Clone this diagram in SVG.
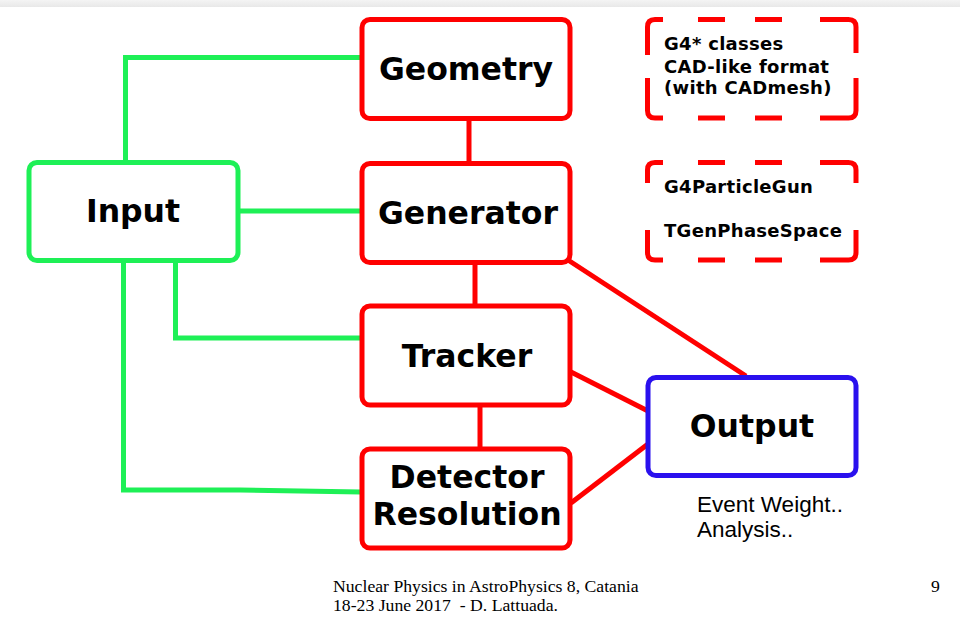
<svg xmlns="http://www.w3.org/2000/svg" width="960" height="635" viewBox="0 0 960 635">
<defs>
<linearGradient id="topbar" x1="0" y1="0" x2="0" y2="1">
<stop offset="0" stop-color="#f4f4f4"/>
<stop offset="1" stop-color="#e8e8e8"/>
</linearGradient>
</defs>
<style>
.box{fill:#fff;stroke-width:5}
.red{stroke:#ff0000}
.grn{stroke:#1ef056}
.blu{stroke:#2a10ee}
.lbl{font-family:"DejaVu Sans",sans-serif;font-weight:bold;font-size:31.5px;fill:#000;text-anchor:middle}
.small{font-family:"DejaVu Sans",sans-serif;font-weight:bold;font-size:18px;letter-spacing:0.3px;fill:#000}
.dash{fill:none;stroke:#ff0000;stroke-width:5;stroke-linecap:butt;stroke-linejoin:round}
.ln{fill:none;stroke-width:5}
.note{font-family:"Liberation Sans",Arial,sans-serif;font-size:22.5px;fill:#000}
.foot{font-family:"Liberation Serif","Times New Roman",serif;font-size:17.7px;fill:#000;white-space:pre}
</style>
<rect x="0" y="0" width="960" height="635" fill="#fff"/>
<rect x="0" y="0" width="960" height="7" fill="url(#topbar)"/>

<g id="connectors">
<polyline class="ln grn" points="125.5,162 125.5,57.5 361,57.5"/>
<line class="ln grn" x1="238" y1="211" x2="361" y2="211"/>
<polyline class="ln grn" points="175.5,261 175.5,338 361,338"/>
<polyline class="ln grn" points="123.5,261 123.5,490 240,490 361,492"/>
<line class="ln red" x1="469" y1="118" x2="469" y2="163"/>
<line class="ln red" x1="475" y1="262" x2="475" y2="306"/>
<line class="ln red" x1="480" y1="405" x2="480" y2="449"/>
<line class="ln red" x1="568" y1="260" x2="746" y2="376"/>
<line class="ln red" x1="571" y1="372" x2="648" y2="411"/>
<line class="ln red" x1="571" y1="503" x2="648" y2="444"/>
</g>

<g id="geometry">
<rect class="box red" x="362" y="19.5" width="208" height="99" rx="8"/>
<text class="lbl" x="466" y="80">Geometry</text>
</g>
<g id="generator">
<rect class="box red" x="362" y="163.5" width="208" height="99" rx="8"/>
<text class="lbl" x="468" y="224">Generator</text>
</g>
<g id="tracker">
<rect class="box red" x="362" y="306" width="208" height="99" rx="8"/>
<text class="lbl" x="467" y="367">Tracker</text>
</g>
<g id="detector">
<rect class="box red" x="362" y="449" width="208" height="99" rx="8"/>
<text class="lbl" x="467" y="488">Detector</text>
<text class="lbl" x="467" y="525">Resolution</text>
</g>
<g id="input">
<rect class="box grn" x="29" y="162.5" width="209" height="98" rx="8"/>
<text class="lbl" x="133" y="222">Input</text>
</g>
<g id="output">
<rect class="box blu" x="648" y="377.5" width="208" height="98" rx="8"/>
<text class="lbl" x="752" y="437">Output</text>
<text class="note" x="697" y="512">Event Weight..</text>
<text class="note" x="697" y="537">Analysis..</text>
</g>

<g id="geometry-note">
<path class="dash" d="M647.5,55 V27 Q647.5,19.5 655,19.5 H663 M698,19.5 H725 M755,19.5 H782 M820,19.5 H848.5 Q856,19.5 856,27 V53 M856,78 V110.5 Q856,118 848.5,118 H820 M782,118 H755 M725,118 H698 M663,118 H655 Q647.5,118 647.5,110.5 V78"/>
<text class="small" x="664" y="50">G4* classes</text>
<text class="small" x="664" y="73">CAD-like format</text>
<text class="small" x="664" y="94">(with CADmesh)</text>
</g>
<g id="generator-note">
<path class="dash" d="M647.5,183 V170 Q647.5,162.5 655,162.5 H663 M698,162.5 H725 M755,162.5 H782 M820,162.5 H848.5 Q856,162.5 856,170 V183 M856,230 V252.5 Q856,260 848.5,260 H820 M782,260 H755 M725,260 H698 M663,260 H655 Q647.5,260 647.5,252.5 V230"/>
<text class="small" x="664" y="193">G4ParticleGun</text>
<text class="small" x="664" y="237">TGenPhaseSpace</text>
</g>

<g id="footer">
<text class="foot" x="333" y="592">Nuclear Physics in AstroPhysics 8, Catania</text>
<text class="foot" x="333" y="611" xml:space="preserve">18-23 June 2017  - D. Lattuada.</text>
<text class="foot" x="931" y="592">9</text>
</g>
</svg>
